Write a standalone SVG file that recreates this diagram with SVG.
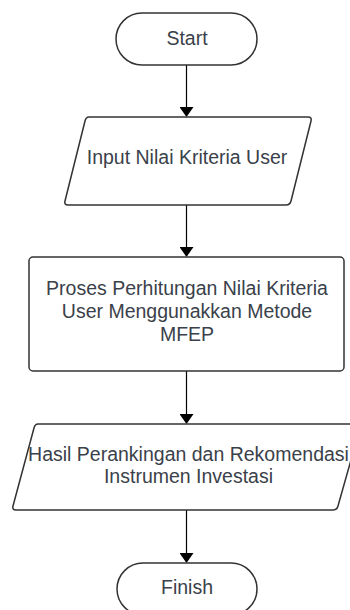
<svg xmlns="http://www.w3.org/2000/svg" width="350" height="610" viewBox="0 0 350 610">
  <defs>
    <style>
      .shape { fill: #ffffff; stroke: #333333; stroke-width: 1.5; stroke-linejoin: round; }
      .label { font-family: "Liberation Sans", Arial, sans-serif; font-size: 19.5px; fill: #3a414a; text-anchor: middle; }
      .conn { stroke: #000000; stroke-width: 1.2; fill: none; }
    </style>
    <marker id="arrow" markerWidth="10" markerHeight="14" refX="9" refY="5" orient="auto" markerUnits="userSpaceOnUse" viewBox="0 0 10 10" preserveAspectRatio="none">
      <path d="M0,0 L10,5 L0,10 Z" fill="#000000"/>
    </marker>
  </defs>
  <rect width="350" height="610" fill="#ffffff"/>

  <g id="connectors">
    <path class="conn" d="M186.5,65 V116" marker-end="url(#arrow)"/>
    <path class="conn" d="M186.5,205 V256" marker-end="url(#arrow)"/>
    <path class="conn" d="M186.5,371 V423" marker-end="url(#arrow)"/>
    <path class="conn" d="M186.5,510 V562" marker-end="url(#arrow)"/>
  </g>

  <g id="start">
    <rect class="shape" x="116" y="13" width="141" height="52" rx="26" ry="26"/>
    <text class="label" x="187" y="45">Start</text>
  </g>

  <g id="input">
    <path class="shape" d="M89,117 H308 Q312,117 311,121 L291,201 Q290,205 286,205 H68 Q64,205 65,201 L85,121 Q86,117 89,117 Z"/>
    <text class="label" x="187" y="164">Input Nilai Kriteria User</text>
  </g>

  <g id="process">
    <rect class="shape" x="29" y="257" width="315" height="114" rx="4" ry="4"/>
    <text class="label" x="187" y="295">Proses Perhitungan Nilai Kriteria</text>
    <text class="label" x="187" y="318">User Menggunakkan Metode</text>
    <text class="label" x="187" y="341">MFEP</text>
  </g>

  <g id="output">
    <path class="shape" d="M38,424 H357 Q361,424 360,428 L338,506 Q337,510 333,510 H16 Q12,510 13,506 L34,428 Q35,424 38,424 Z"/>
    <text class="label" x="188.5" y="461">Hasil Perankingan dan Rekomendasi</text>
    <text class="label" x="188.5" y="483">Instrumen Investasi</text>
  </g>

  <g id="finish">
    <rect class="shape" x="117" y="563" width="140" height="52" rx="26" ry="26"/>
    <text class="label" x="187" y="594">Finish</text>
  </g>
</svg>
